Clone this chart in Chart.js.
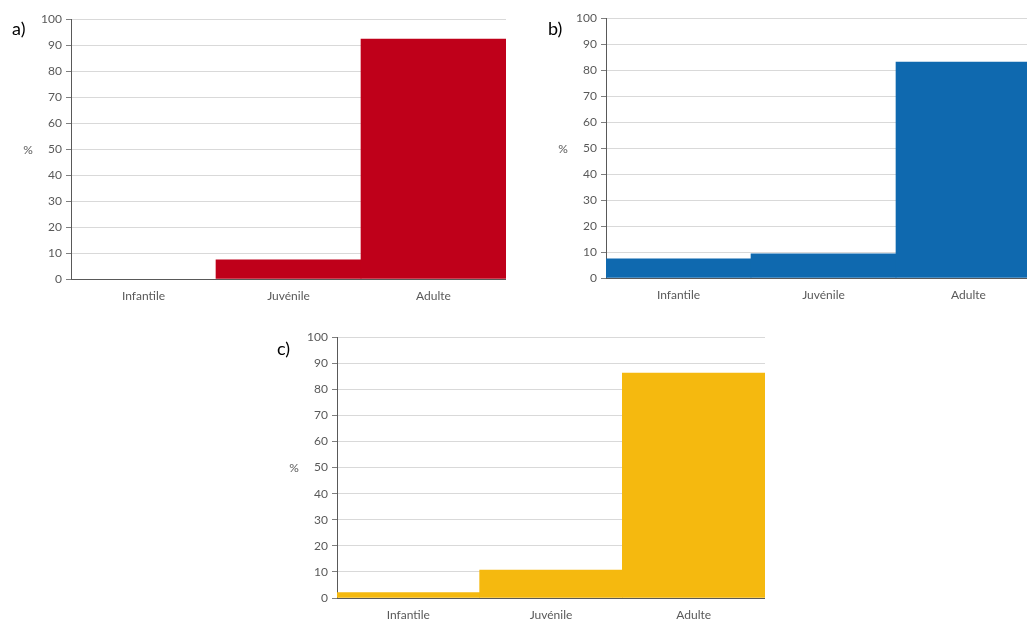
<!DOCTYPE html>
<html>
<head>
<meta charset="utf-8">
<script src="https://cdn.jsdelivr.net/npm/chart.js@4/dist/chart.umd.min.js"></script>
<style>
  html, body { margin:0; padding:0; background:#fff; width:1027px; height:619px; overflow:hidden; position:relative; }
  canvas { position:absolute; }
  .plabel { position:absolute; font-family: Lato, "Liberation Sans", sans-serif; font-size:18px; line-height:18px; color:#000; }
</style>
</head>
<body>
<script>
// ---- data ----
const categories = ['Infantile', 'Juvénile', 'Adulte'];
const yTickValues = [0, 10, 20, 30, 40, 50, 60, 70, 80, 90, 100];
const panelLabels = ['a)', 'b)', 'c)'];
const yAxisTitle = '%';
const valuesA = [0, 7.4, 92.3];
const valuesB = [7.4, 9.3, 83.1];
const valuesC = [2.1, 10.7, 86.2];

// ---- layout / style ----
const panels = [
  { values: valuesA, label: panelLabels[0], color: '#BF001A', left: 21, top: 8, width: 485, height: 301, lx: 12, ly: 19 },
  { values: valuesB, label: panelLabels[1], color: '#0F69AF', left: 556, top: 7, width: 485, height: 301, lx: 548, ly: 19 },
  { values: valuesC, label: panelLabels[2], color: '#F5B90F', left: 287, top: 326, width: 478, height: 302, lx: 277, ly: 339 }
];

const FONT = 'Lato, "Liberation Sans", sans-serif';
const GREY = '#595959';

const percentPlugin = {
  id: 'percentTitle',
  afterDraw(chart) {
    const { ctx, chartArea } = chart;
    ctx.save();
    ctx.font = '12px ' + FONT;
    ctx.fillStyle = GREY;
    ctx.textAlign = 'center';
    ctx.textBaseline = 'middle';
    ctx.fillText(yAxisTitle, chartArea.left - 43, (chartArea.top + chartArea.bottom) / 2 + 1);
    ctx.restore();
  }
};

panels.forEach(p => {
  const cv = document.createElement('canvas');
  cv.width = p.width; cv.height = p.height;
  cv.style.left = p.left + 'px'; cv.style.top = p.top + 'px';
  cv.style.width = p.width + 'px'; cv.style.height = p.height + 'px';
  document.body.appendChild(cv);

  const lbl = document.createElement('div');
  lbl.className = 'plabel';
  lbl.textContent = p.label;
  lbl.style.left = p.lx + 'px'; lbl.style.top = p.ly + 'px';
  document.body.appendChild(lbl);

  new Chart(cv, {
    type: 'bar',
    data: {
      labels: categories,
      datasets: [{
        data: p.values,
        backgroundColor: (c) => (c.raw === 0 ? 'rgba(0,0,0,0)' : p.color),
        borderWidth: 0,
        categoryPercentage: 1.0,
        barPercentage: 1.0
      }]
    },
    options: {
      responsive: false,
      animation: false,
      devicePixelRatio: 1,
      layout: { padding: { top: 10, left: 0, right: 0, bottom: 0 } },
      plugins: { legend: { display: false }, tooltip: { enabled: false } },
      scales: {
        x: {
          z: 1,
          grid: { display: false, drawTicks: false },
          border: { display: true, color: GREY, width: 1 },
          ticks: { color: GREY, font: { family: FONT, size: 12 }, padding: 10 },
          afterFit(scale) { scale.height = 30; }
        },
        y: {
          min: 0, max: 100,
          grid: { color: '#D9D9D9', lineWidth: 1, drawTicks: true, tickLength: 5, tickColor: '#7F7F7F' },
          border: { display: true, color: GREY, width: 1 },
          ticks: { color: GREY, font: { family: FONT, size: 12 }, padding: 4, autoSkip: false },
          afterBuildTicks(scale) { scale.ticks = yTickValues.map(v => ({ value: v })); },
          afterFit(scale) { scale.width = 50; }
        }
      }
    },
    plugins: [percentPlugin]
  });
});
</script>
</body>
</html>
